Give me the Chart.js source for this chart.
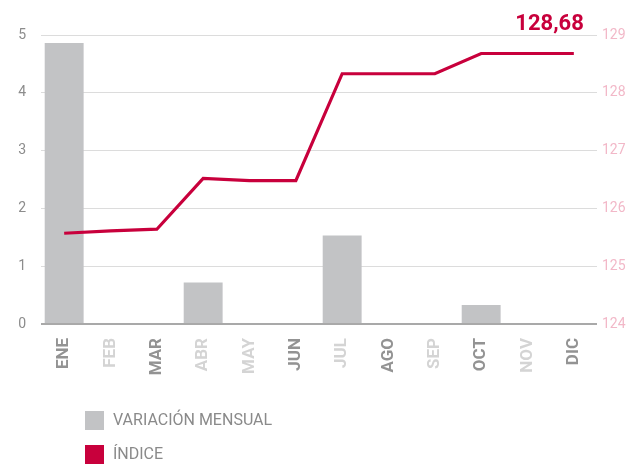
<!DOCTYPE html>
<html>
<head>
<meta charset="utf-8">
<script src="https://cdn.jsdelivr.net/npm/chart.js@4/dist/chart.umd.min.js"></script>
<style>
    html, body { margin: 0; padding: 0; background: #fff; }
    #wrap { position: relative; width: 631px; height: 465px; }
</style>
</head>
<body>
<div id="wrap"><canvas id="ipcChart" width="631" height="465"></canvas></div>
<script>
// ========================================
// DATA
// ========================================

const months = ['ENE', 'FEB', 'MAR', 'ABR', 'MAY', 'JUN', 'JUL', 'AGO', 'SEP', 'OCT', 'NOV', 'DIC'];
const monthlyVariation = [4.86, 0, 0, 0.72, 0, 0, 1.53, 0, 0, 0.33, 0, 0];
const indexValues = [125.57, 125.61, 125.64, 126.52, 126.48, 126.48, 128.33, 128.33, 128.33, 128.68, 128.68, 128.68];
const leftTicks = [0, 1, 2, 3, 4, 5];
const rightTicks = [124, 125, 126, 127, 128, 129];
// dark / light month labels as in the original
const labelShade = [1, 0, 1, 0, 0, 1, 0, 1, 0, 1, 0, 1];
const lastLabel = '128,68';
const legendItems = ['VARIACIÓN MENSUAL', 'ÍNDICE'];

// ========================================
// STYLE
// ========================================

const barColor = '#c2c3c5';
const lineColor = '#c8003c';
const gridColor = '#dcdcdc';
const axisColor = '#a9a9a9';
const leftTickColor = '#8c8c8c';
const rightTickColor = '#f2b8c8';
const fontFamily = 'Roboto, "Noto Sans", sans-serif';

// Draws the value over the last point and the legend below the chart
const extrasPlugin = {
    id: 'extras',
    afterDraw(chart) {
        const { ctx } = chart;
        const meta = chart.getDatasetMeta(1);
        const last = meta.data[meta.data.length - 1];

        ctx.save();
        ctx.fillStyle = lineColor;
        ctx.font = `bold 22px ${fontFamily}`;
        ctx.textAlign = 'right';
        ctx.textBaseline = 'alphabetic';
        ctx.fillText(lastLabel, last.x + 10, last.y - 23);

        const colors = [barColor, lineColor];
        ctx.font = `16px ${fontFamily}`;
        ctx.textAlign = 'left';
        ctx.textBaseline = 'middle';
        legendItems.forEach((text, i) => {
            const y = 411 + i * 34;
            ctx.fillStyle = colors[i];
            ctx.fillRect(85, y, 19, 19);
            ctx.fillStyle = '#8a8a8a';
            ctx.fillText(text, 113, y + 10);
        });
        ctx.restore();
    }
};

const ctx = document.getElementById('ipcChart').getContext('2d');

new Chart(ctx, {
    data: {
        labels: months,
        datasets: [
            {
                type: 'bar',
                label: legendItems[0],
                data: monthlyVariation,
                backgroundColor: barColor,
                yAxisID: 'y',
                barPercentage: 0.84,
                categoryPercentage: 1.0,
                order: 2
            },
            {
                type: 'line',
                label: legendItems[1],
                data: indexValues,
                borderColor: lineColor,
                borderWidth: 3.2,
                pointRadius: 0,
                tension: 0,
                yAxisID: 'y1',
                order: 1
            }
        ]
    },
    options: {
        responsive: false,
        animation: false,
        layout: {
            padding: { top: 35, bottom: 86, left: 0, right: 0 }
        },
        plugins: {
            legend: { display: false },
            tooltip: { enabled: false }
        },
        scales: {
            x: {
                grid: { display: false, drawTicks: false },
                border: { display: false },
                afterFit(scale) { scale.height = 55; },
                ticks: {
                    minRotation: 90,
                    maxRotation: 90,
                    padding: 14,
                    font: { family: fontFamily, size: 17, weight: 'bold' },
                    color: (c) => labelShade[c.index] ? '#939393' : '#d4d4d4'
                }
            },
            y: {
                position: 'left',
                min: leftTicks[0],
                max: leftTicks[leftTicks.length - 1],
                afterFit(scale) { scale.width = 41; },
                afterBuildTicks(scale) {
                    scale.ticks = leftTicks.map(v => ({ value: v }));
                },
                border: { display: false },
                grid: {
                    drawTicks: false,
                    color: (c) => c.tick && c.tick.value === 0 ? axisColor : gridColor,
                    lineWidth: (c) => c.tick && c.tick.value === 0 ? 2 : 1
                },
                ticks: {
                    padding: 15,
                    color: leftTickColor,
                    font: { family: fontFamily, size: 14 }
                }
            },
            y1: {
                position: 'right',
                min: rightTicks[0],
                max: rightTicks[rightTicks.length - 1],
                afterFit(scale) { scale.width = 34; },
                afterBuildTicks(scale) {
                    scale.ticks = rightTicks.map(v => ({ value: v }));
                },
                border: { display: false },
                grid: { display: false, drawTicks: false },
                ticks: {
                    padding: 5,
                    color: rightTickColor,
                    font: { family: fontFamily, size: 14 }
                }
            }
        }
    },
    plugins: [extrasPlugin]
});
</script>
</body>
</html>
